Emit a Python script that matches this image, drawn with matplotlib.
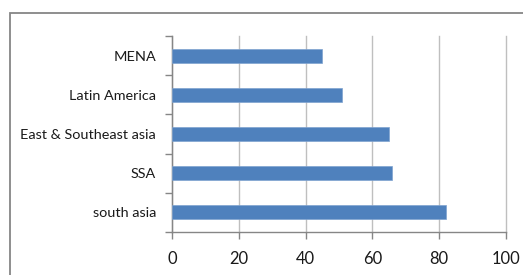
import matplotlib
matplotlib.use("Agg")
import matplotlib.pyplot as plt
from matplotlib.patches import Rectangle

categories = ["south asia", "SSA", "East & Southeast asia", "Latin America", "MENA"]
values = [82, 66, 65, 51, 45]
xticks = [0, 20, 40, 60, 80, 100]

plt.rcParams['font.family'] = ['Lato', 'DejaVu Sans']

W, H = 523, 275
fig = plt.figure(figsize=(W / 100, H / 100), dpi=100)
fig.patch.set_facecolor("white")

# outer chart border (cut off on right and bottom)
fig.patches.append(Rectangle((10 / W, -0.1), 1.2, 1 - 13 / H + 0.1, transform=fig.transFigure,
                             fill=False, edgecolor="#868686", linewidth=1.3))

left, right, top, bottom = 172, 506, 36, 232
ax = fig.add_axes([left / W, 1 - bottom / H, (right - left) / W, (bottom - top) / H])

# fit font size so the longest label spans about the reference width
renderer = fig.canvas.get_renderer()
t = fig.text(0, 0, "East & Southeast asia", fontsize=10)
w10 = t.get_window_extent(renderer).width
t.remove()
fs = 10 * 135 / w10

y = list(range(len(categories)))
ax.barh(y, values, height=0.36, color="#4F81BD", edgecolor="#7FA3D0", linewidth=0.5, zorder=3)
ax.set_xlim(0, 100)
ax.set_ylim(-0.5, len(categories) - 0.5)
ax.set_xticks(xticks)
ax.set_xticklabels([str(t) for t in xticks], fontsize=fs * 1.15)
ax.set_yticks(y)
ax.set_yticklabels(categories, fontsize=fs)
ax.set_yticks([i - 0.5 for i in range(len(categories) + 1)], minor=True)
ax.tick_params(axis="y", which="major", length=0, pad=11.5, labelcolor="#1a1a1a")
ax.tick_params(axis="y", which="minor", length=5, color="#868686", width=1)
ax.tick_params(axis="x", length=5, color="#868686", width=1, pad=9, labelcolor="#1a1a1a")
ax.grid(axis="x", color="#BFBFBF", linewidth=1, zorder=0)
for gl in ax.get_xgridlines():
    gl.set_clip_on(False)
for s in ["top", "right"]:
    ax.spines[s].set_visible(False)
for s in ["left", "bottom"]:
    ax.spines[s].set_color("#868686")
    ax.spines[s].set_linewidth(1)

fig.savefig("out.png", dpi=100)
